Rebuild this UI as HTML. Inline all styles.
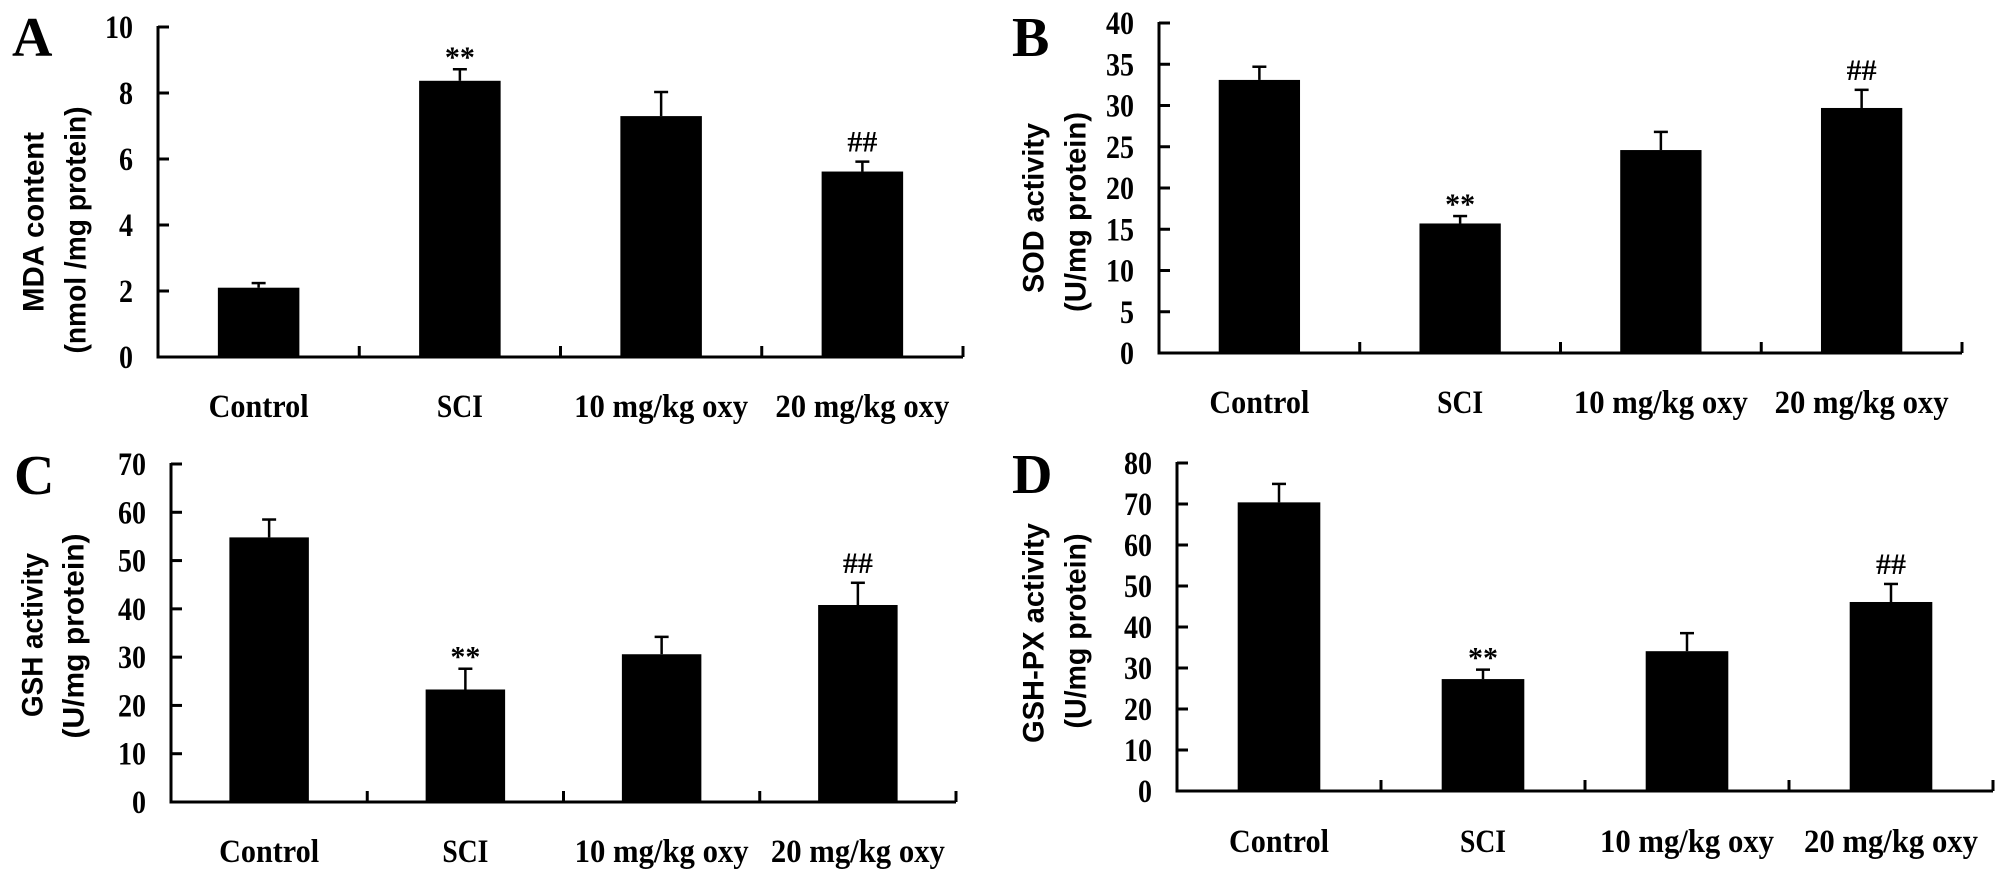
<!DOCTYPE html>
<html><head><meta charset="utf-8">
<style>
html,body{margin:0;padding:0;background:#fff;}
svg{display:block;}
.tk{font-family:"Liberation Serif",serif;font-weight:bold;font-size:33px;fill:#000;}
.cat{font-family:"Liberation Serif",serif;font-weight:bold;font-size:33px;fill:#000;}
.ttl{font-family:"Liberation Sans",sans-serif;font-weight:bold;font-size:30px;fill:#000;}
.let{font-family:"Liberation Serif",serif;font-weight:bold;font-size:56px;fill:#000;}
.ann{font-family:"Liberation Serif",serif;font-weight:bold;font-size:30px;fill:#000;}
</style></head>
<body>
<svg id="fig" width="2008" height="881" viewBox="0 0 2008 881" xmlns="http://www.w3.org/2000/svg"></svg>
<script>
const categories = ["Control", "SCI", "10 mg/kg oxy", "20 mg/kg oxy"];
const mdaValues = [2.1, 8.37, 7.3, 5.62];
const mdaErrors = [0.14, 0.35, 0.73, 0.3];
const mdaTicks = [0, 2, 4, 6, 8, 10];
const sodValues = [33.1, 15.7, 24.6, 29.7];
const sodErrors = [1.6, 0.9, 2.2, 2.2];
const sodTicks = [0, 5, 10, 15, 20, 25, 30, 35, 40];
const gshValues = [54.8, 23.3, 30.6, 40.8];
const gshErrors = [3.7, 4.3, 3.6, 4.6];
const gshTicks = [0, 10, 20, 30, 40, 50, 60, 70];
const gpxValues = [70.4, 27.3, 34.1, 46.1];
const gpxErrors = [4.5, 2.3, 4.4, 4.4];
const gpxTicks = [0, 10, 20, 30, 40, 50, 60, 70, 80];
const mdaMarks = ["", "**", "", "##"];
const sodMarks = ["", "**", "", "##"];
const gshMarks = ["", "**", "", "##"];
const gpxMarks = ["", "**", "", "##"];

const NS = "http://www.w3.org/2000/svg";
const svg = document.getElementById("fig");
function mk(tag, attrs, parent) {
  const e = document.createElementNS(NS, tag);
  for (const k in attrs) e.setAttribute(k, attrs[k]);
  (parent || svg).appendChild(e);
  return e;
}
const catWidths = {"Control":100, "SCI":46, "10 mg/kg oxy":174, "20 mg/kg oxy":174};

const panels = [
  {id:"a", letter:"A", lx:12, ly:56, x0:158, x1:963, yTop:27, yBase:357, ticks:mdaTicks, vals:mdaValues, errs:mdaErrors, marks:mdaMarks,
   t1:"MDA content", t2:"(nmol /mg protein)", tx1:34, tx2:76, tc1:222, tc2:230, tl1:180, tl2:247, catY:417},
  {id:"b", letter:"B", lx:1012, ly:56, x0:1159, x1:1962, yTop:23, yBase:353, ticks:sodTicks, vals:sodValues, errs:sodErrors, marks:sodMarks,
   t1:"SOD activity", t2:"(U/mg protein)", tx1:1034, tx2:1076, tc1:208, tc2:212, tl1:170, tl2:200, catY:413},
  {id:"c", letter:"C", lx:14, ly:494, x0:171, x1:956, yTop:464, yBase:802, ticks:gshTicks, vals:gshValues, errs:gshErrors, marks:gshMarks,
   t1:"GSH activity", t2:"(U/mg protein)", tx1:33, tx2:74, tc1:635, tc2:636, tl1:164, tl2:205, catY:862},
  {id:"d", letter:"D", lx:1012, ly:493, x0:1177, x1:1993, yTop:463, yBase:791, ticks:gpxTicks, vals:gpxValues, errs:gpxErrors, marks:gpxMarks,
   t1:"GSH-PX activity", t2:"(U/mg protein)", tx1:1034, tx2:1076, tc1:633, tc2:631, tl1:220, tl2:195, catY:852}
];

panels.forEach(p => {
  const g = mk("g", {});
  
  
  const maxV = p.ticks[p.ticks.length - 1];
  const yS = v => p.yBase - (v / maxV) * (p.yBase - p.yTop);
  const cw = (p.x1 - p.x0) / categories.length;
  const xC = i => p.x0 + cw * (i + 0.5);
  const bw = cw * 0.405;

  const L = mk("text", {x:p.lx, y:p.ly, class:"let"}, g);
  L.textContent = p.letter;
  
  

  const ya = mk("line", {x1:p.x0, y1:p.yTop - 1, x2:p.x0, y2:p.yBase + 1.5, stroke:"#000", "stroke-width":3}, g);
  
  
  p.ticks.forEach(t => {
    const y = yS(t);
    const tl = mk("line", {x1:p.x0, y1:y, x2:p.x0 + 11, y2:y, stroke:"#000", "stroke-width":3}, g);
    
    
    const s = String(t);
    const tx = mk("text", {x:p.x0 - 25, y:y + 11, "text-anchor":"end", class:"tk", textLength:s.length * 14, lengthAdjust:"spacingAndGlyphs"}, g);
    tx.textContent = s;
    
    
  });
  const xa = mk("line", {x1:p.x0 - 1.5, y1:p.yBase, x2:p.x1, y2:p.yBase, stroke:"#000", "stroke-width":3}, g);
  
  
  for (let i = 1; i <= categories.length; i++) {
    const x = p.x0 + cw * i;
    const xt = mk("line", {x1:x, y1:p.yBase, x2:x, y2:p.yBase - 11, stroke:"#000", "stroke-width":3}, g);
    
    
  }
  categories.forEach((c, i) => {
    const v = p.vals[i], e = p.errs[i];
    const yt = yS(v), ye = yS(v + e);
    const r = mk("rect", {x:xC(i) - bw / 2, y:yt, width:bw, height:p.yBase - yt, fill:"#000"}, g);
    
    
    const el = mk("line", {x1:xC(i), y1:yt, x2:xC(i), y2:ye, stroke:"#000", "stroke-width":2.5}, g);
    
    
    const ec = mk("line", {x1:xC(i) - 7, y1:ye, x2:xC(i) + 7, y2:ye, stroke:"#000", "stroke-width":2.5}, g);
    
    
    if (p.marks[i]) {
      const m = p.marks[i];
      const an = mk("text", {x:xC(i), y: m === "**" ? ye - 2 : ye - 10, "text-anchor":"middle", class:"ann"}, g);
      an.textContent = m;
      
      
    }
    const lb = mk("text", {x:xC(i), y:p.catY, "text-anchor":"middle", class:"cat", textLength:catWidths[c], lengthAdjust:"spacingAndGlyphs"}, g);
    lb.textContent = c;
    
    
  });
  const t1 = mk("text", {x:0, y:0, "text-anchor":"middle", "dominant-baseline":"central", class:"ttl",
    transform:`translate(${p.tx1},${p.tc1}) rotate(-90)`, textLength:p.tl1, lengthAdjust:"spacingAndGlyphs"}, g);
  t1.textContent = p.t1;
  
  
  const t2 = mk("text", {x:0, y:0, "text-anchor":"middle", "dominant-baseline":"central", class:"ttl",
    transform:`translate(${p.tx2},${p.tc2}) rotate(-90)`, textLength:p.tl2, lengthAdjust:"spacingAndGlyphs"}, g);
  t2.textContent = p.t2;
  
  
});
</script>
</body></html>
